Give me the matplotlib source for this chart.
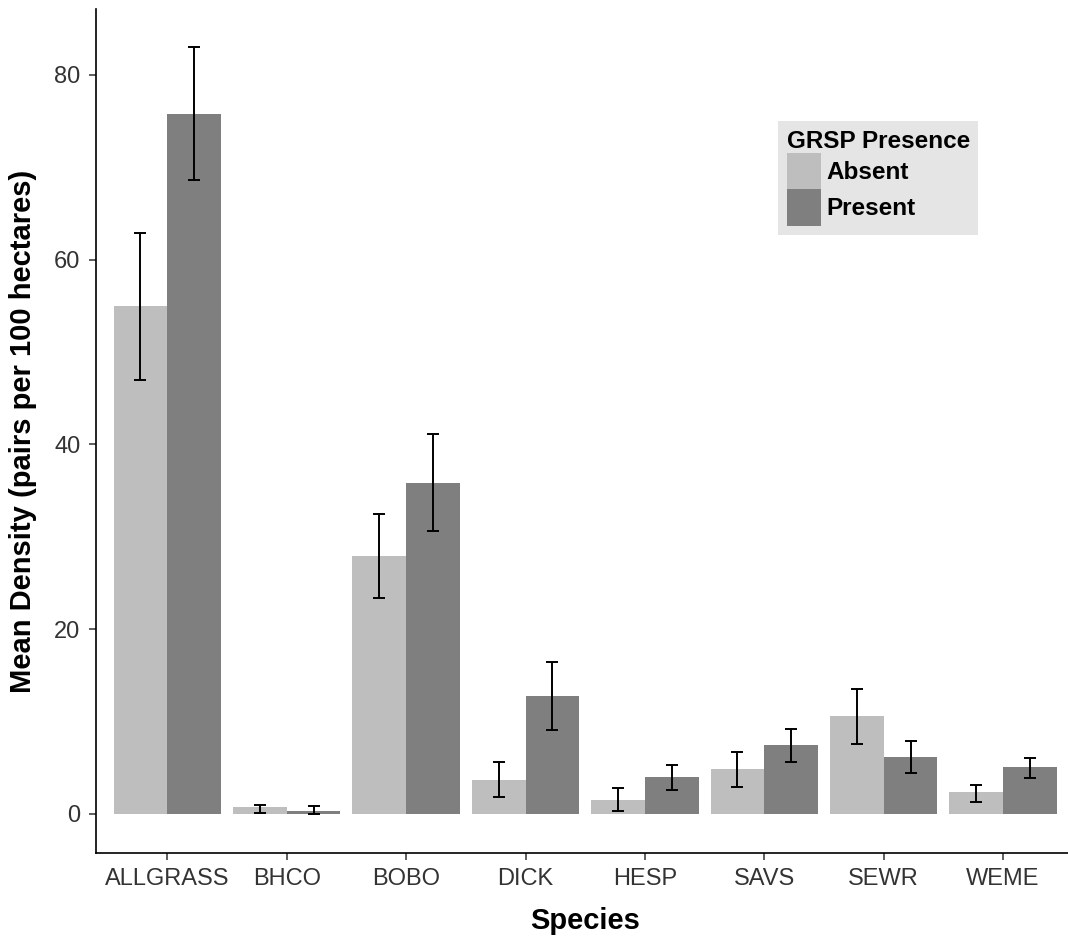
import numpy as np
import matplotlib.pyplot as plt
from matplotlib.patches import Patch

plt.rcParams['font.family'] = ['Liberation Sans', 'DejaVu Sans']

species = ['ALLGRASS', 'BHCO', 'BOBO', 'DICK', 'HESP', 'SAVS', 'SEWR', 'WEME']

absent_mean = [55.0, 0.73, 27.96, 3.68, 1.55, 4.84, 10.58, 2.35]
absent_lo = [46.98, 0.15, 23.4, 1.8, 0.32, 2.96, 7.58, 1.3]
absent_hi = [62.86, 1.0, 32.5, 5.63, 2.81, 6.74, 13.5, 3.1]

present_mean = [75.75, 0.36, 35.87, 12.77, 4.0, 7.44, 6.14, 5.12]
present_lo = [68.6, 0.0, 30.67, 9.06, 2.63, 5.6, 4.4, 3.93]
present_hi = [83.0, 0.9, 41.1, 16.45, 5.27, 9.2, 7.9, 6.06]

light = '#BEBEBE'
dark = '#7F7F7F'

fig = plt.figure(figsize=(10.68, 9.39), dpi=100)
ax = fig.add_axes([95.7 / 1068, 86.3 / 939, 979 / 1068, 843.4 / 939])

x = np.arange(1, len(species) + 1)
w = 0.45

am = np.array(absent_mean)
pm = np.array(present_mean)
ax.bar(x - w / 2, am, width=w, color=light, linewidth=0)
ax.bar(x + w / 2, pm, width=w, color=dark, linewidth=0)

# error bars
ax.errorbar(x - w / 2, am, yerr=[am - np.array(absent_lo), np.array(absent_hi) - am],
            fmt='none', ecolor='black', elinewidth=1.4, capsize=4.4, capthick=1.4)
ax.errorbar(x + w / 2, pm, yerr=[pm - np.array(present_lo), np.array(present_hi) - pm],
            fmt='none', ecolor='black', elinewidth=1.4, capsize=4.4, capthick=1.4)

ax.set_xlim(0.4, 8.6)
ax.set_ylim(-4.19, 87.1)
ax.set_xticks(x)
ax.set_xticklabels(species)
ax.set_yticks([0, 20, 40, 60, 80])

ax.spines['top'].set_visible(False)
ax.spines['right'].set_visible(False)
ax.spines['left'].set_linewidth(1.2)
ax.spines['bottom'].set_linewidth(1.2)
ax.tick_params(axis='both', labelsize=17, colors='#333333', length=5, width=1.1, pad=6)

ax.set_xlabel('Species', fontsize=21, fontweight='bold', labelpad=12)
ax.set_ylabel('Mean Density (pairs per 100 hectares)', fontsize=21, fontweight='bold', labelpad=12)

handles = [Patch(facecolor=light, edgecolor='none'), Patch(facecolor=dark, edgecolor='none')]
leg = ax.legend(handles, ['Absent', 'Present'], title='GRSP Presence',
                loc='upper left', bbox_to_anchor=(778 / 1068, 1 - 121 / 939),
                bbox_transform=fig.transFigure, frameon=True, fancybox=False,
                facecolor='#E5E5E5', edgecolor='none', framealpha=1,
                prop={'size': 17.5, 'weight': 'bold'},
                title_fontproperties={'size': 17.5, 'weight': 'bold'},
                handlelength=1.4, handleheight=1.95, labelspacing=0.0, handletextpad=0.25,
                borderpad=0.35, borderaxespad=0)
leg._legend_box.align = 'left'

plt.savefig('out.png', dpi=100)
